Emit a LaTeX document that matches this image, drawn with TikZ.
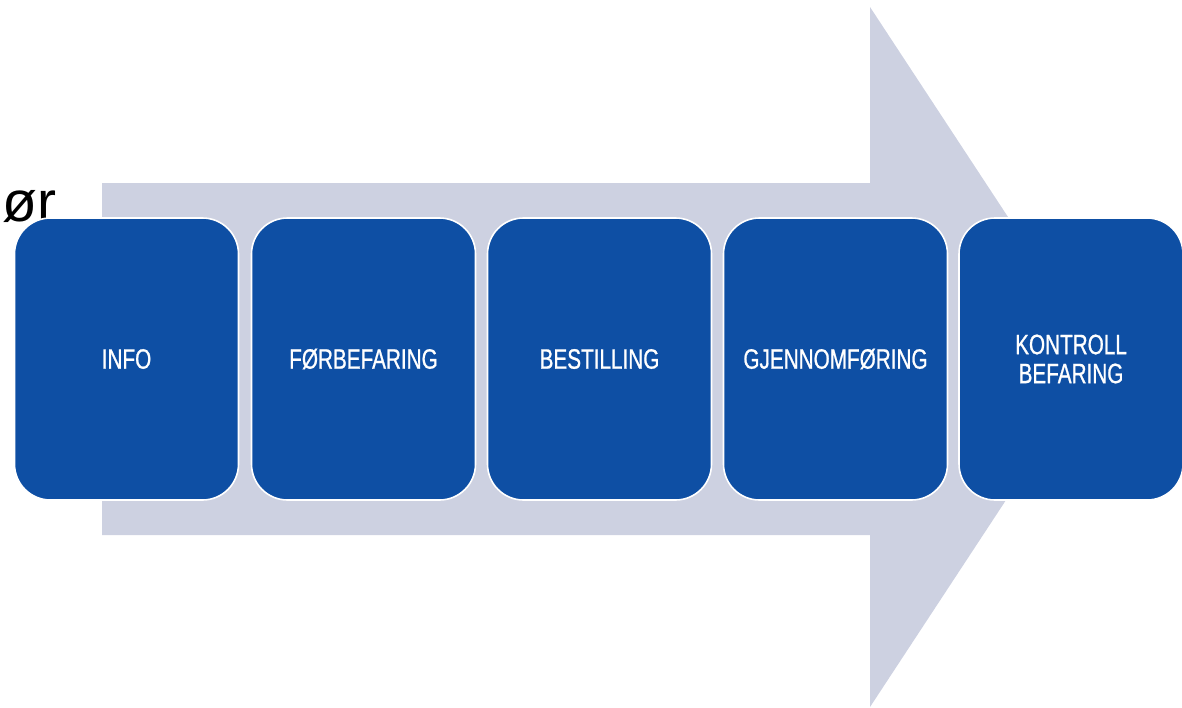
\documentclass[tikz,border=0pt]{standalone}
\usepackage{fontspec}
\setmainfont{Liberation Sans}
\newfontfamily\narrowfont[FakeStretch=0.74,FakeBold=0.8]{Liberation Sans}
\definecolor{arrowgrey}{RGB}{205,209,225}
\definecolor{stepblue}{RGB}{14,79,164}
\begin{document}
\begin{tikzpicture}[x=1pt,y=-1pt,
  stepbox/.style={draw=white,line width=1.6pt,fill=stepblue,rounded corners=36pt,
    minimum width=224pt,minimum height=282pt,inner sep=0pt,
    text=white,font=\narrowfont\fontsize{28}{29}\selectfont,align=center}]
\useasboundingbox (0,0) rectangle (1182,707);
% big process arrow behind the steps
\fill[arrowgrey] (102,183) -- (870,183) -- (870,7) -- (1100,357)
  -- (870,707) -- (870,535) -- (102,535) -- cycle;
% partial heading text at the left edge
\node[anchor=base west,inner sep=0pt,font=\fontsize{57}{57}\selectfont] (head) at (2,221) {ør};
% process steps
\node[stepbox] (s1) at (126.5,359) {INFO};
\node[stepbox] (s2) at (363.5,359) {FØRBEFARING};
\node[stepbox] (s3) at (599.5,359) {BESTILLING};
\node[stepbox] (s4) at (835.5,359) {GJENNOMFØRING};
\node[stepbox] (s5) at (1071,359) {KONTROLL\\BEFARING};
\end{tikzpicture}
\end{document}
